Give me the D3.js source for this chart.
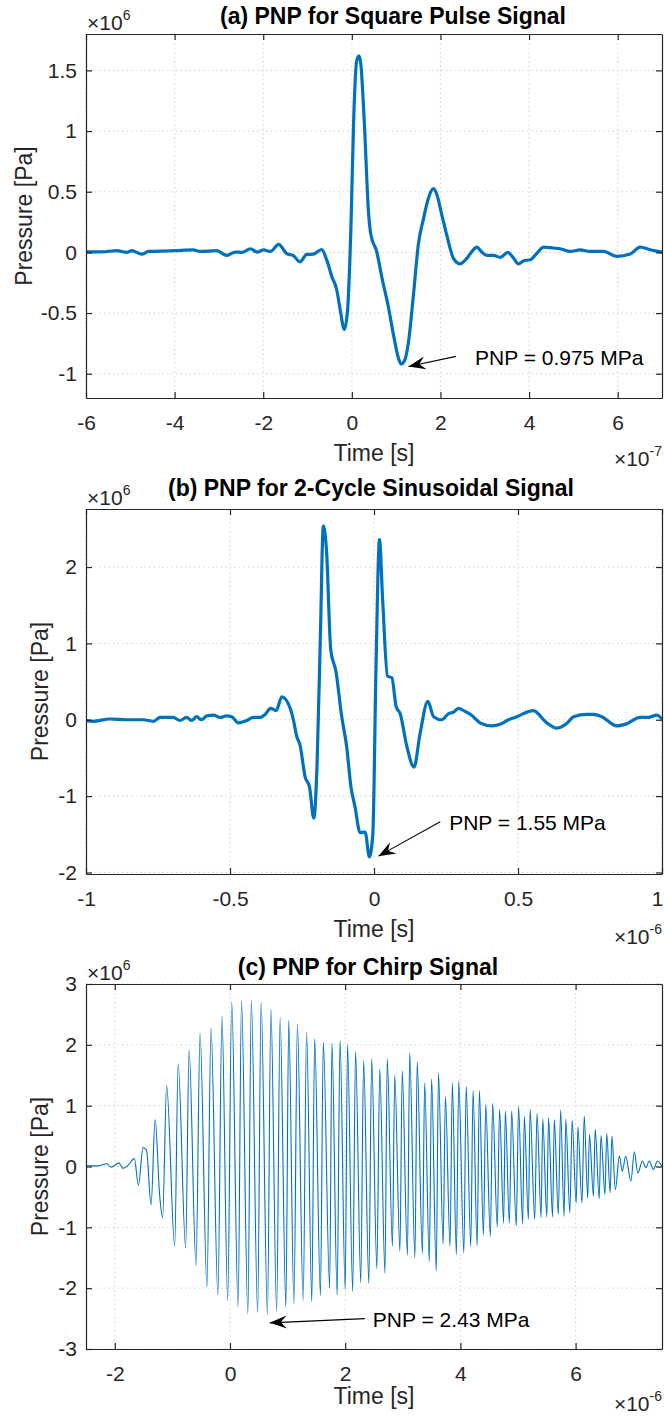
<!DOCTYPE html>
<html>
<head>
<meta charset="utf-8">
<script src="https://cdn.jsdelivr.net/npm/d3@7"></script>
<style>
  body { margin: 0; background: #fff; }
  svg text { font-family: "Liberation Sans", Arial, Helvetica, sans-serif; }
</style>
</head>
<body>
<svg id="fig" width="664" height="1420"></svg>
<script>
// ---------- (a) square pulse: time in 1e-7 s, pressure in 1e6 Pa ----------
const squareTime = [
  -6.0, -5.65, -5.30, -5.08, -4.97, -4.74, -4.59, -4.30, -3.99, -3.58, -3.42, -3.05,
  -2.82, -2.63, -2.48, -2.29, -2.14, -1.99, -1.84, -1.65, -1.47, -1.32, -1.17, -1.02,
  -0.87, -0.68, -0.57, -0.45, -0.34, -0.26, -0.17, -0.10, -0.02, 0.04, 0.11, 0.16,
  0.20, 0.28, 0.38, 0.43, 0.56, 0.68, 0.83, 0.94, 1.05, 1.11, 1.18, 1.28,
  1.39, 1.50, 1.62, 1.73, 1.84, 1.92, 2.03, 2.14, 2.29, 2.44, 2.60, 2.71,
  2.82, 2.93, 3.05, 3.20, 3.35, 3.52, 3.65, 3.76, 3.88, 4.03, 4.18, 4.33,
  4.55, 4.70, 4.93, 5.15, 5.38, 5.68, 5.98, 6.28, 6.51, 6.73, 7.0
];
const squarePressure = [
  0.005, 0.005, 0.014, 0.0, 0.014, -0.014, 0.008, 0.01, 0.014, 0.02, 0.008, 0.014,
  -0.025, 0.003, 0.0, 0.03, 0.003, 0.02, 0.008, 0.066, -0.011, -0.027, -0.078, -0.017,
  -0.014, 0.024, -0.06, -0.20, -0.31, -0.48, -0.635, -0.49, 0.22, 1.08, 1.58, 1.62,
  1.56, 1.08, 0.31, 0.146, 0.008, -0.21, -0.46, -0.68, -0.87, -0.92, -0.90, -0.734,
  -0.35, 0.063, 0.283, 0.448, 0.525, 0.475, 0.31, 0.146, -0.047, -0.094, -0.047, 0.008,
  0.044, 0.003, -0.025, -0.025, -0.041, 0.0, -0.047, -0.094, -0.069, -0.06, -0.005, 0.044,
  0.036, 0.03, 0.008, 0.02, 0.008, 0.008, -0.033, -0.014, 0.044, 0.022, 0.003
];
const squareTimeTicks = [-6, -4, -2, 0, 2, 4, 6];
const squarePressureTicks = [-1, -0.5, 0, 0.5, 1, 1.5];

// ---------- (b) 2-cycle sinusoid: time in 1e-6 s, pressure in 1e6 Pa ----------
const sineTime = [
  -1.0, -0.975, -0.917, -0.859, -0.80, -0.766, -0.743, -0.697, -0.674, -0.651, -0.633, -0.616,
  -0.599, -0.581, -0.556, -0.535, -0.512, -0.494, -0.471, -0.442, -0.419, -0.396, -0.378, -0.359,
  -0.340, -0.320, -0.291, -0.280, -0.268, -0.257, -0.239, -0.224, -0.209, -0.198, -0.186, -0.176,
  -0.165, -0.150, -0.132, -0.112, -0.095, -0.080, -0.066, -0.048, -0.031, -0.016, -0.004, 0.007,
  0.019, 0.030, 0.047, 0.062, 0.077, 0.091, 0.114, 0.139, 0.160, 0.187, 0.207, 0.235,
  0.259, 0.276, 0.293, 0.316, 0.339, 0.368, 0.409, 0.438, 0.467, 0.496, 0.553, 0.600,
  0.635, 0.669, 0.693, 0.739, 0.762, 0.791, 0.843, 0.872, 0.924, 0.953, 0.982, 1.0
];
const sinePressure = [
  -0.01, -0.02, 0.01, 0.0, 0.0, -0.02, 0.03, 0.03, -0.01, 0.03, -0.01, 0.04,
  0.0, 0.05, 0.06, 0.03, 0.05, 0.04, -0.04, -0.01, 0.03, 0.03, 0.07, 0.15,
  0.12, 0.30, 0.15, 0.0, -0.22, -0.33, -0.75, -0.88, -1.29, -0.62, 1.13, 2.54,
  2.22, 0.91, 0.63, 0.04, -0.35, -0.88, -1.14, -1.48, -1.47, -1.795, -1.49, 0.70,
  2.36, 1.57, 0.57, 0.55, 0.17, 0.08, -0.35, -0.62, -0.18, 0.24, 0.04, 0.0,
  0.08, 0.10, 0.15, 0.11, 0.06, -0.04, -0.08, -0.06, 0.0, 0.04, 0.12, -0.04,
  -0.11, -0.05, 0.04, 0.07, 0.07, 0.04, -0.08, -0.06, 0.03, 0.03, 0.06, 0.01
];
const sineTimeTicks = [-1, -0.5, 0, 0.5, 1];
const sinePressureTicks = [-2, -1, 0, 1, 2];

// ---------- (c) chirp: time in 1e-6 s, pressure in 1e6 Pa (turning points) ----------
const chirpTime = [
  -2.50, -2.30, -2.20, -2.14, -2.07, -2.00, -1.93, -1.86, -1.78, -1.66, -1.59, -1.51,
  -1.45, -1.37, -1.30, -1.22, -1.17, -1.10, -0.96, -0.90, -0.77, -0.71, -0.59, -0.52,
  -0.40, -0.33, -0.21, -0.14, -0.04, 0.03, 0.14, 0.20, 0.31, 0.37, 0.48, 0.54,
  0.65, 0.71, 0.81, 0.87, 0.97, 1.02, 1.11, 1.17, 1.27, 1.33, 1.42, 1.47,
  1.57, 1.62, 1.73,
  1.77, 1.86, 1.91, 2.00, 2.04, 2.13, 2.18, 2.27, 2.32, 2.41, 2.46, 2.55,
  2.60, 2.69, 2.73, 2.82, 2.86, 2.95, 2.99, 3.08, 3.12, 3.21, 3.25, 3.34,
  3.38, 3.46, 3.50, 3.58, 3.62, 3.70, 3.74, 3.82, 3.86, 3.93, 3.97, 4.06,
  4.10, 4.18, 4.22, 4.29, 4.33, 4.40, 4.44, 4.52, 4.56, 4.64, 4.68, 4.75,
  4.78, 4.85, 4.89, 4.97, 5.01, 5.08, 5.11, 5.18, 5.21, 5.29, 5.33, 5.40,
  5.43, 5.50, 5.53, 5.60, 5.63, 5.70, 5.74, 5.80, 5.83, 5.90, 5.94, 6.01,
  6.04, 6.11, 6.15, 6.21, 6.24, 6.31, 6.34, 6.41, 6.44, 6.51, 6.54, 6.60,
  6.63, 6.69,
  6.76, 6.81, 6.87, 6.96, 7.02, 7.08, 7.16, 7.22, 7.28, 7.35, 7.42, 7.50
];
const chirpPressure = [
  0.01, 0.01, 0.03, 0.05, -0.01, 0.02, 0.06, -0.03, 0.01, 0.13, -0.31, 0.31,
  0.27, -0.63, 0.77, -0.49, -0.84, 1.33, -1.31, 1.69, -1.34, 1.92, -1.63, 2.19,
  -1.98, 2.28, -2.11, 2.47, -2.20, 2.70, -2.31, 2.72, -2.42, 2.73, -2.40, 2.70,
  -2.43, 2.59, -2.38, 2.45, -2.30, 2.40, -2.26, 2.34, -2.20, 2.21, -2.22, 2.10,
  -2.12, 2.04, -2.00,
  2.03, -2.11, 2.07, -2.02, 2.01, -2.05, 1.89, -1.91, 1.74, -1.92, 1.77, -1.68,
  1.60, -1.75, 1.77, -1.31, 1.50, -1.39, 1.57, -1.46, 1.87, -1.50, 1.72, -1.43,
  1.37, -1.56, 1.44, -1.72, 1.54, -1.28, 1.15, -1.31, 1.37, -1.45, 1.40, -1.42,
  1.32, -1.31, 1.25, -1.30, 1.25, -1.13, 1.02, -1.15, 1.04, -0.99, 0.94, -0.93,
  0.91, -0.93, 0.91, -0.98, 0.99, -0.95, 0.82, -0.87, 0.94, -0.87, 0.87, -0.84,
  0.78, -0.83, 0.80, -0.83, 0.77, -0.79, 0.93, -0.82, 0.78, -0.76, 0.76, -0.60,
  0.65, -0.60, 0.83, -0.52, 0.53, -0.49, 0.61, -0.53, 0.51, -0.46, 0.54, -0.43,
  0.50, -0.38,
  0.17, -0.08, 0.17, -0.24, 0.24, -0.11, 0.09, -0.02, 0.09, -0.05, 0.09, 0.0
];
const chirpTimeTicks = [-2, 0, 2, 4, 6];
const chirpPressureTicks = [-3, -2, -1, 0, 1, 2, 3];

// ---------- figure layout ----------
const FONT = '"Liberation Sans", Arial, Helvetica, sans-serif';
const AXIS = '#262626', GRID = '#d2d2d2', LINE = '#0072BD';
const LEFT = 86, RIGHT = 662, WIDTH = 664;

const panels = [
  {
    key: 'a', title: '(a) PNP for Square Pulse Signal', titleX: 393, titleY: 24,
    top: 34, bottom: 398, xDomain: [-6, 7], yDomain: [-1.2, 1.8],
    time: squareTime, pressure: squarePressure,
    xTicks: squareTimeTicks, yTicks: squarePressureTicks,
    lineWidth: 3.2, xExp: '-7', ylabelX: 24, xlabelDy: 63, xExpDy: 68,
    note: { text: 'PNP = 0.975 MPa', tail: [2.35, -0.857], tip: [1.28, -0.94], at: [2.78, -0.93] }
  },
  {
    key: 'b', title: '(b) PNP for 2-Cycle Sinusoidal Signal', titleX: 371, titleY: 496,
    top: 509, bottom: 874, xDomain: [-1, 1], yDomain: [-2.02, 2.76],
    time: sineTime, pressure: sinePressure,
    xTicks: sineTimeTicks, yTicks: sinePressureTicks,
    lineWidth: 3.2, xExp: '-6', ylabelX: 40, xlabelDy: 63, xExpDy: 70,
    note: { text: 'PNP = 1.55 MPa', tail: [0.23, -1.337], tip: [0.015, -1.786], at: [0.261, -1.446] }
  },
  {
    key: 'c', title: '(c) PNP for Chirp Signal', titleX: 368, titleY: 975,
    top: 984, bottom: 1349, xDomain: [-2.5, 7.5], yDomain: [-3, 3],
    time: chirpTime, pressure: chirpPressure,
    xTicks: chirpTimeTicks, yTicks: chirpPressureTicks,
    lineWidth: 1.1, xExp: '-6', ylabelX: 40, xlabelDy: 55, xExpDy: 62,
    note: { text: 'PNP = 2.43 MPa', tail: [2.34, -2.50], tip: [0.69, -2.57], at: [2.48, -2.64] }
  }
];

const svg = d3.select('#fig');
const defs = svg.append('defs');

function styleAxis(sel) {
  sel.attr('font-family', FONT).attr('font-size', 21);
  sel.select('.domain').attr('stroke', AXIS).attr('stroke-width', 1.2);
  sel.selectAll('.tick line').attr('stroke', AXIS).attr('stroke-width', 1.2);
  sel.selectAll('.tick text').attr('fill', AXIS);
}

function drawPanel(p) {
  const x = d3.scaleLinear().domain(p.xDomain).range([LEFT, RIGHT]);
  const y = d3.scaleLinear().domain(p.yDomain).range([p.bottom, p.top]);
  const g = svg.append('g').attr('class', 'panel-' + p.key);

  // dotted grid
  g.append('g').selectAll('line').data(p.xTicks).join('line')
    .attr('x1', d => x(d)).attr('x2', d => x(d))
    .attr('y1', p.top).attr('y2', p.bottom)
    .attr('stroke', GRID).attr('stroke-width', 1).attr('stroke-dasharray', '1.5,3');
  g.append('g').selectAll('line').data(p.yTicks).join('line')
    .attr('x1', LEFT).attr('x2', RIGHT)
    .attr('y1', d => y(d)).attr('y2', d => y(d))
    .attr('stroke', GRID).attr('stroke-width', 1).attr('stroke-dasharray', '1.5,3');

  // pressure trace
  defs.append('clipPath').attr('id', 'clip-' + p.key)
    .append('rect').attr('x', LEFT).attr('y', p.top)
    .attr('width', RIGHT - LEFT).attr('height', p.bottom - p.top);
  const pts = p.time.map((t, i) => [t, p.pressure[i]]);
  g.append('path').datum(pts)
    .attr('clip-path', `url(#clip-${p.key})`)
    .attr('d', d3.line().x(d => x(d[0])).y(d => y(d[1])).curve(d3.curveMonotoneX))
    .attr('fill', 'none').attr('stroke', LINE).attr('stroke-width', p.lineWidth)
    .attr('stroke-linejoin', 'round').attr('stroke-linecap', 'round');

  // box axes with inward ticks
  const fmt = d => String(d);
  const bottomAxis = g.append('g').attr('transform', `translate(0,${p.bottom})`)
    .call(d3.axisBottom(x).tickValues(p.xTicks).tickFormat(fmt)
      .tickSizeInner(-6).tickSizeOuter(0).tickPadding(17))
    .call(styleAxis);
  // keep a label sitting on the right edge inside the page
  bottomAxis.selectAll('.tick text').each(function (d) {
    const w = this.getBBox().width;
    const over = x(d) + w / 2 - (WIDTH - 1);
    if (over > 0) d3.select(this).attr('dx', -over);
  });
  g.append('g').attr('transform', `translate(${LEFT},0)`)
    .call(d3.axisLeft(y).tickValues(p.yTicks).tickFormat(fmt)
      .tickSizeInner(-6).tickSizeOuter(0).tickPadding(9))
    .call(styleAxis);
  g.append('g').attr('transform', `translate(0,${p.top})`)
    .call(d3.axisTop(x).tickValues(p.xTicks).tickFormat('')
      .tickSizeInner(-6).tickSizeOuter(0))
    .call(styleAxis);
  g.append('g').attr('transform', `translate(${RIGHT},0)`)
    .call(d3.axisRight(y).tickValues(p.yTicks).tickFormat('')
      .tickSizeInner(-6).tickSizeOuter(0))
    .call(styleAxis);

  // exponent multipliers
  const yExp = g.append('text').attr('x', LEFT + 1).attr('y', p.top - 4)
    .attr('font-size', 21).attr('fill', AXIS).text('\u00d710');
  yExp.append('tspan').attr('dy', -10).attr('font-size', 14).text('6');

  const xExp = g.append('text').attr('x', RIGHT).attr('y', p.bottom + p.xExpDy)
    .attr('text-anchor', 'end').attr('font-size', 21).attr('fill', AXIS).text('\u00d710');
  xExp.append('tspan').attr('dy', -10).attr('font-size', 14).text(p.xExp);

  // axis labels and title
  g.append('text').attr('x', (LEFT + RIGHT) / 2).attr('y', p.bottom + p.xlabelDy)
    .attr('text-anchor', 'middle').attr('font-size', 23).attr('fill', AXIS)
    .text('Time [s]');
  g.append('text')
    .attr('transform', `translate(${p.ylabelX},${(p.top + p.bottom) / 2}) rotate(-90)`)
    .attr('dy', '0.35em').attr('text-anchor', 'middle')
    .attr('font-size', 23).attr('fill', AXIS).text('Pressure [Pa]');
  g.append('text').attr('x', p.titleX).attr('y', p.titleY)
    .attr('text-anchor', 'middle').attr('font-size', 23).attr('font-weight', 'bold')
    .attr('fill', '#000').text(p.title);

  // PNP annotation arrow
  const n = p.note;
  const x0 = x(n.tail[0]), y0 = y(n.tail[1]);
  const x1 = x(n.tip[0]), y1 = y(n.tip[1]);
  const ang = Math.atan2(y1 - y0, x1 - x0) * 180 / Math.PI;
  g.append('line').attr('x1', x0).attr('y1', y0).attr('x2', x1).attr('y2', y1)
    .attr('stroke', '#000').attr('stroke-width', 1.1);
  g.append('path')
    .attr('d', 'M0,0 L-17,-6.5 L-11,0 L-17,6.5 Z')
    .attr('transform', `translate(${x1},${y1}) rotate(${ang})`)
    .attr('fill', '#000');
  g.append('text').attr('x', x(n.at[0])).attr('y', y(n.at[1]))
    .attr('font-size', 21).attr('fill', '#000').text(n.text);
}

panels.forEach(drawPanel);
</script>
</body>
</html>
